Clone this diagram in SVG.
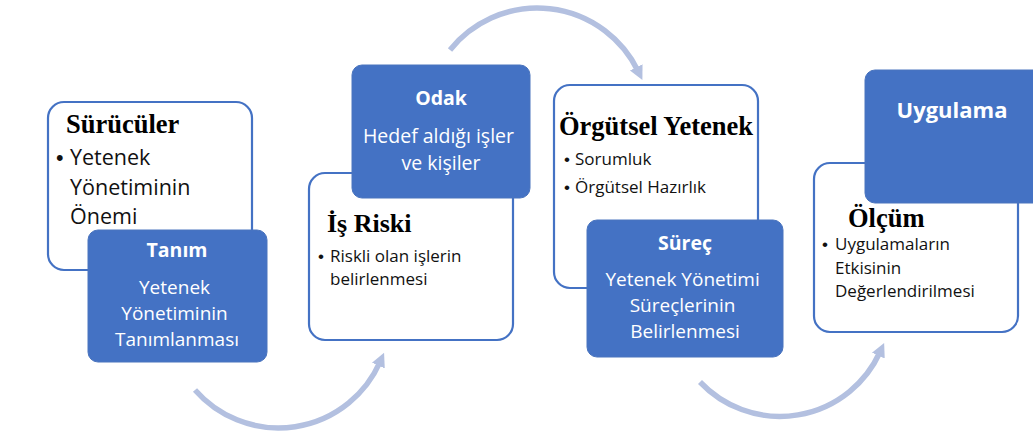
<svg xmlns="http://www.w3.org/2000/svg" width="1033" height="433" viewBox="0 0 1033 433">
  <style>
    .card { fill: #ffffff; stroke: #4472C4; stroke-width: 2.2; }
    .tab { fill: #4472C4; stroke: #4A74BE; stroke-width: 1; }
    .head { font-family: "Liberation Serif", "DejaVu Serif", serif; font-weight: 700; fill: #000000; }
    .body { font-family: "Open Sans", "Liberation Sans", sans-serif; fill: #111111; }
    .dot { font-family: "Liberation Sans", "DejaVu Sans", sans-serif; }
    .tabtitle { font-family: "Open Sans", "Liberation Sans", sans-serif; font-weight: 700; fill: #ffffff; text-anchor: middle; }
    .tabtext { font-family: "Open Sans", "Liberation Sans", sans-serif; fill: #ffffff; text-anchor: middle; }
    .flow { fill: none; stroke: #B3C0E0; stroke-width: 5.5; }
  </style>
  <defs>
    <marker id="ah" markerUnits="userSpaceOnUse" markerWidth="16" markerHeight="16" viewBox="0 0 16 16" refX="4" refY="8" orient="auto">
      <path d="M0,1 L14,8 L0,15 z" fill="#B3C0E0"/>
    </marker>
  </defs>

  <rect width="1033" height="433" fill="#ffffff"/>

  <!-- curved connectors between the stages -->
  <g id="connectors">
    <path class="flow" d="M195,390 A111,111 0 0 0 380,362" marker-end="url(#ah)"/>
    <path class="flow" d="M450,50 A112,112 0 0 1 638,71" marker-end="url(#ah)"/>
    <path class="flow" d="M700,382 A110,110 0 0 0 880,352" marker-end="url(#ah)"/>
  </g>

  <!-- stage 1 -->
  <g id="surucular">
    <rect class="card" x="48" y="102" width="204" height="168" rx="16"/>
    <text class="head" x="66" y="133" font-size="26.5">Sürücüler</text>
    <text class="body" font-size="21.5">
      <tspan class="dot" x="56" y="165">•</tspan>
      <tspan x="70" y="165">Yetenek</tspan>
      <tspan x="70" y="194.5">Yönetiminin</tspan>
      <tspan x="70" y="224">Önemi</tspan>
    </text>
  </g>
  <g id="tanim">
    <rect class="tab" x="88" y="230" width="179" height="132" rx="10"/>
    <text class="tabtitle" x="177" y="257" font-size="19.5">Tanım</text>
    <text class="tabtext" font-size="19">
      <tspan x="177" y="294">Yetenek</tspan>
      <tspan x="177" y="320">Yönetiminin</tspan>
      <tspan x="177" y="346">Tanımlanması</tspan>
    </text>
  </g>

  <!-- stage 2 -->
  <g id="is-riski">
    <rect class="card" x="309" y="173" width="204" height="167" rx="16"/>
    <text class="head" x="327" y="232" font-size="26">İş Riski</text>
    <text class="body" font-size="17">
      <tspan class="dot" x="318" y="262">•</tspan>
      <tspan x="330" y="262">Riskli olan işlerin</tspan>
      <tspan x="330" y="285">belirlenmesi</tspan>
    </text>
  </g>
  <g id="odak">
    <rect class="tab" x="352" y="65" width="178" height="133" rx="10"/>
    <text class="tabtitle" x="441" y="105" font-size="19.5">Odak</text>
    <text class="tabtext" font-size="19.5">
      <tspan x="441" y="143">Hedef aldığı işler</tspan>
      <tspan x="441" y="170">ve kişiler</tspan>
    </text>
  </g>

  <!-- stage 3 -->
  <g id="orgutsel-yetenek">
    <rect class="card" x="554" y="85" width="204" height="203" rx="16"/>
    <text class="head" x="559" y="135" font-size="26.5">Örgütsel Yetenek</text>
    <text class="body" font-size="17">
      <tspan class="dot" x="564" y="165">•</tspan>
      <tspan x="575" y="165">Sorumluk</tspan>
      <tspan class="dot" x="564" y="193">•</tspan>
      <tspan x="575" y="193">Örgütsel Hazırlık</tspan>
    </text>
  </g>
  <g id="surec">
    <rect class="tab" x="587" y="220" width="196" height="137" rx="10"/>
    <text class="tabtitle" x="685" y="250" font-size="19.5">Süreç</text>
    <text class="tabtext" font-size="19">
      <tspan x="685" y="286">Yetenek Yönetimi</tspan>
      <tspan x="685" y="312">Süreçlerinin</tspan>
      <tspan x="685" y="338">Belirlenmesi</tspan>
    </text>
  </g>

  <!-- stage 4 -->
  <g id="olcum">
    <rect class="card" x="814" y="163" width="204" height="169" rx="16"/>
    <text class="head" x="848" y="227" font-size="26.5">Ölçüm</text>
    <text class="body" font-size="17">
      <tspan class="dot" x="822" y="250">•</tspan>
      <tspan x="835" y="250">Uygulamaların</tspan>
      <tspan x="835" y="273.5">Etkisinin</tspan>
      <tspan x="835" y="297">Değerlendirilmesi</tspan>
    </text>
  </g>
  <g id="uygulama">
    <rect class="tab" x="865" y="70" width="185" height="133" rx="10"/>
    <text class="tabtitle" x="952" y="118" font-size="22">Uygulama</text>
  </g>
</svg>
